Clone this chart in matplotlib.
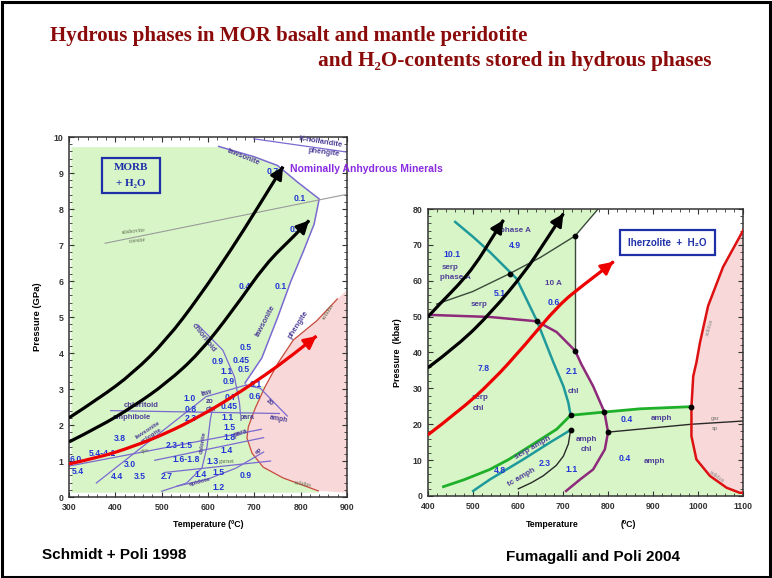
import matplotlib
matplotlib.use("Agg")
import matplotlib.pyplot as plt
from matplotlib.patches import Rectangle, Polygon, PathPatch
from matplotlib.path import Path
from matplotlib.ticker import MultipleLocator

SANS = ['Liberation Sans', 'DejaVu Sans']
SERIF = ['Liberation Serif', 'DejaVu Serif']
plt.rcParams['font.family'] = SANS

# ================= MORB + H2O (Schmidt & Poli 1998): T in degC, P in GPa =================
morb_T_lim = (300, 900)
morb_P_lim = (0, 10)

# upper limit of the hydrous assemblages (lawsonite / phengite breakdown)
law_T = [623, 660, 700, 750, 793, 840, 829, 805, 779, 750, 716, 680]
law_P = [9.74, 9.6, 9.45, 9.21, 8.75, 8.28, 7.58, 6.8, 6.0, 4.98, 3.86, 3.17]

# wet basalt solidus
sol_T = [838, 762, 719, 695, 684, 687, 702, 723, 751, 784, 835, 879]
sol_P = [0.17, 0.53, 0.83, 1.22, 1.64, 1.95, 2.47, 3.06, 3.72, 4.36, 4.9, 5.5]

# reaction boundaries inside the hydrous field
morb_lines = [
    ([699, 901], [9.95, 9.58]),                                   # K-hollandite / phengite
    ([578, 632, 657, 668, 670], [4.78, 4.08, 3.34, 2.6, 2.3]),    # chloritoid out
    ([390, 754], [2.40, 2.32]),                                   # chloritoid / amphibole
    ([359, 596, 682], [0.39, 2.79, 3.11]),                        # lawsonite / eclogite
    ([682, 713, 771], [3.11, 3.02, 2.25]),                        # zoisite / amphibole
    ([300, 715], [0.86, 1.88]),                                   # cpx / paragonite
    ([485, 720], [1.02, 1.65]),
    ([505, 735], [0.68, 1.00]),                                   # garnet
    ([533, 600, 660, 720], [0.30, 0.50, 0.80, 1.25]),             # epidote / eclogite
    ([500, 554, 587, 598, 605, 609], [0.16, 0.39, 0.81, 1.41, 2.16, 2.40]),  # chlorite
]
stish_T = [378, 896]
stish_P = [7.05, 8.4]

# wt% H2O bound in hydrous phases
morb_water = [
    ("0.7", 740, 9.04), ("0.1", 797, 8.3), ("0.6", 790, 7.42),
    ("0.4", 680, 5.84), ("0.1", 758, 5.84),
    ("0.5", 682, 4.16), ("0.9", 621, 3.76), ("0.45", 671, 3.79), ("1.1", 641, 3.5),
    ("0.5", 676, 3.54), ("0.9", 644, 3.2), ("0.1", 703, 3.12),
    ("1.0", 560, 2.74), ("0.7", 648, 2.76), ("0.6", 700, 2.79),
    ("0.8", 562, 2.44), ("0.45", 646, 2.51), ("2.3", 562, 2.17), ("1.1", 643, 2.2),
    ("1.5", 646, 1.93), ("1.8", 646, 1.66), ("3.8", 410, 1.62), ("2.3-1.5", 538, 1.42),
    ("1.4", 641, 1.29), ("5.4-4.1", 372, 1.22), ("1.6-1.8", 552, 1.04), ("1.3", 609, 1.0),
    ("6.0", 314, 1.04), ("5.4", 318, 0.7), ("3.0", 432, 0.89), ("4.4", 403, 0.57),
    ("3.5", 452, 0.58), ("2.7", 510, 0.57), ("1.4", 583, 0.63), ("1.5", 623, 0.67),
    ("0.9", 681, 0.6), ("1.2", 622, 0.27),
]

# phase names: (text, T, P, rotation, size)
morb_phases = [
    ("lawsonite", 677, 9.44, -22, 5.5), ("K-hollandite", 843, 9.86, -9, 5.5),
    ("phengite", 851, 9.58, -7, 5.5), ("lawsonite", 723, 4.9, 62, 5.5),
    ("phengite", 795, 4.78, 57, 5.5), ("chloritoid", 590, 4.42, -52, 5.5),
    ("chloritoid", 455, 2.53, 0, 5.5), ("amphibole", 436, 2.22, 0, 5.5),
    ("lawsonite", 470, 1.85, 33, 4.5), ("eclogite", 478, 1.7, 33, 4.5),
    ("law", 596, 2.88, 15, 5), ("zo", 603, 2.66, 0, 5), ("chl", 607, 2.44, 0, 5),
    ("para", 683, 2.22, 0, 5), ("para", 670, 1.78, 18, 5), ("amph", 752, 2.16, -10, 5),
    ("zo", 733, 2.64, -40, 5), ("chlorite", 589, 1.5, 82, 4.5), ("ep", 708, 1.3, 45, 4.5),
    ("epidote", 582, 0.42, 15, 4.5),
]
morb_minor_labels = [
    ("cpx", 464, 1.29, 8), ("garnet", 641, 0.99, 0), ("stishovite", 440, 7.38, 6),
    ("coesite", 447, 7.12, 6), ("solidus", 860, 5.15, 58), ("solidus", 805, 0.36, -10),
]

# P-T paths of subducting crust
morb_path_hot_T = [300, 365, 438, 510, 581, 654, 725, 783, 834]
morb_path_hot_P = [0.92, 1.1, 1.40, 1.77, 2.23, 2.79, 3.40, 3.95, 4.47]
morb_path_cold1_T = [300, 365, 438, 510, 581, 654, 704, 762]
morb_path_cold1_P = [2.2, 2.74, 3.44, 4.36, 5.56, 6.95, 7.97, 9.18]
morb_path_cold2_T = [300, 365, 438, 510, 581, 654, 725, 783, 818]
morb_path_cold2_P = [1.53, 1.95, 2.51, 3.16, 3.99, 5.19, 6.49, 7.21, 7.68]

# ================= lherzolite + H2O (Fumagalli & Poli 2004): T in degC, P in kbar =================
lz_T_lim = (400, 1100)
lz_P_lim = (0, 80)

lz_purple_T = [400, 538, 642, 686, 727, 741, 767, 792, 800, 793, 767, 738, 707]
lz_purple_P = [50.5, 49.9, 48.7, 45.7, 40.5, 36.7, 30.6, 23.4, 17.8, 13, 7.4, 4.6, 1.4]
lz_teal_T = [461, 500, 538, 597, 642, 679, 701, 712, 717]
lz_teal_P = [76.4, 72.3, 68, 60.6, 48.9, 37.2, 30.6, 26, 22.5]
lz_teal2_T = [501, 510, 538, 612, 671, 717]
lz_teal2_P = [1.4, 2.2, 4.6, 10.2, 14.9, 18.4]
lz_green_T = [435, 480, 538, 580, 627, 686, 717, 792, 871, 985]
lz_green_P = [2.6, 4.5, 7.4, 10.2, 13.9, 18.6, 22.5, 23.4, 24.3, 24.9]
lz_chl_T = [601, 630, 656, 685, 701, 712, 717]
lz_chl_P = [2.0, 3.7, 5.6, 8.5, 11.1, 14.5, 18.4]
lz_garsp_T = [800, 985, 1100]
lz_garsp_P = [17.8, 20.0, 20.9]
lz_phaseA_T = [420, 500, 582, 650, 727, 778]
lz_phaseA_P = [53.5, 57, 62, 66.5, 72.5, 80]
lz_10A_T = [727, 727]
lz_10A_P = [72.5, 40.5]
lz_sol_T = [1100, 1055, 1022, 1004, 996, 989, 985, 985, 996, 1026, 1063, 1092, 1100]
lz_sol_P = [74.1, 63.8, 53, 42.8, 37.2, 33.4, 24.9, 16.7, 10.2, 5.6, 2.3, 0.9, 0.9]
lz_points_T = [582, 727, 642, 727, 717, 717, 792, 800, 985]
lz_points_P = [62, 72.5, 48.7, 40.5, 22.5, 18.4, 23.4, 17.8, 24.9]

lz_water = [("4.9", 594, 69.9), ("10.1", 453, 67.3), ("0.6", 679, 54), ("5.1", 560, 56.4),
            ("7.8", 523, 35.5), ("2.1", 719, 34.8), ("0.4", 841, 21.4), ("0.4", 837, 10.4),
            ("4.8", 560, 7.0), ("2.3", 660, 9.1), ("1.1", 719, 7.4)]
lz_phases = [("phase A", 594, 74.1, 0), ("serp", 450, 63.8, 0), ("phase A", 461, 61, 0),
             ("10 A", 679, 59.2, 0), ("serp", 513, 53.4, 0), ("serp", 516, 27.4, 0),
             ("chl", 512, 24.3, 0), ("chl", 723, 29.2, 0), ("amph", 919, 21.5, 0),
             ("amph", 753, 15.8, 0), ("chl", 753, 13.0, 0), ("amph", 904, 9.5, 0),
             ("serp amph", 634, 13.5, 30), ("tc amph", 608, 5.1, 30)]

lz_path_hot_T = [400, 468, 542, 616, 690, 745, 785, 812]
lz_path_hot_P = [17, 23.5, 31.8, 42.1, 53.2, 58.8, 62.6, 65.3]
lz_path_cold1_T = [400, 431, 468, 505, 542, 568]
lz_path_cold1_P = [49.9, 54.1, 58.8, 64.3, 71.8, 76.9]
lz_path_cold2_T = [400, 468, 542, 616, 660, 701]
lz_path_cold2_P = [35.7, 42.1, 51.3, 62.5, 70.8, 78.7]

# ---------------------------------------------------------------------------
GREEN = '#d8f5c8'
PINK = '#f8d8d8'
LINE_PURPLE = '#7a6ad0'
NUM_BLUE = '#2437d4'
NAME_PURPLE = '#4f3f98'

fig = plt.figure(figsize=(7.72, 5.78), dpi=100)
fig.patch.set_facecolor('white')

# slide frame
fig.add_artist(Rectangle((0.002, 0.002), 0.996, 0.994, transform=fig.transFigure,
                         fill=False, lw=2.2, ec='black'))

fig.text(0.065, 0.938, "Hydrous phases in MOR basalt and mantle peridotite",
         family=SERIF, weight='bold', size=15, color='#8b0a0a', va='center')
fig.text(0.412, 0.895, "and H\u2082O-contents stored in hydrous phases",
         family=SERIF, weight='bold', size=15.4, color='#8b0a0a', va='center')

fig.text(0.055, 0.039, "Schmidt + Poli 1998", weight='bold', size=11, va='center')
fig.text(0.655, 0.037, "Fumagalli and Poli 2004", weight='bold', size=11, va='center')


def style_axes(ax, xmaj, xmin, ymaj, ymin):
    ax.xaxis.set_major_locator(MultipleLocator(xmaj))
    ax.xaxis.set_minor_locator(MultipleLocator(xmin))
    ax.yaxis.set_major_locator(MultipleLocator(ymaj))
    ax.yaxis.set_minor_locator(MultipleLocator(ymin))
    ax.tick_params(which='both', direction='in', top=True, right=True, colors='#333333')
    ax.tick_params(which='major', length=3.5, width=0.8, labelsize=6.3, pad=4)
    ax.tick_params(which='minor', length=2, width=0.6)
    for lab in ax.get_xticklabels() + ax.get_yticklabels():
        lab.set_fontweight('bold')
    for s in ax.spines.values():
        s.set_color('#333333')
        s.set_linewidth(1.1)


def draw_path(ax, T, P, color):
    """Smooth P-T path through the given stations, ending in an arrow head."""
    pts = list(zip(T, P))
    verts = [pts[0]]
    codes = [Path.MOVETO]
    for i in range(1, len(pts) - 1):
        if i == len(pts) - 2:
            end = pts[i + 1]
        else:
            end = ((pts[i][0] + pts[i + 1][0]) / 2, (pts[i][1] + pts[i + 1][1]) / 2)
        verts += [pts[i], end]
        codes += [Path.CURVE3, Path.CURVE3]
    ax.add_patch(PathPatch(Path(verts, codes), fill=False, ec=color, lw=2.3,
                           capstyle='butt', zorder=6))
    tip = pts[-1]
    prev = pts[-2]
    near = (tip[0] - 0.04 * (tip[0] - prev[0]), tip[1] - 0.04 * (tip[1] - prev[1]))
    ax.annotate('', xy=tip, xytext=near,
                arrowprops=dict(arrowstyle='-|>,head_length=0.75,head_width=0.38',
                                color=color, lw=2.0, shrinkA=0, shrinkB=0),
                zorder=7)


# ========================= left panel =========================
ax1 = fig.add_axes([0.0894, 0.1401, 0.3601, 0.6228])
ax1.set_xlim(*morb_T_lim)
ax1.set_ylim(*morb_P_lim)

# hydrous field
i_sol = sol_T.index(723)
green_pts = ([(305, 0.12), (305, 9.72), (623, 9.72)] + list(zip(law_T, law_P)) +
             list(zip(sol_T[i_sol::-1], sol_P[i_sol::-1])) + [(838, 0.12)])
ax1.add_patch(Polygon(green_pts, closed=True, fc=GREEN, ec='none', zorder=0))
# melt field
pink_pts = list(zip(sol_T, sol_P)) + [(900, 5.75), (900, 0.12)]
ax1.add_patch(Polygon(pink_pts, closed=True, fc=PINK, ec='none', zorder=0))

ax1.plot(law_T, law_P, color=LINE_PURPLE, lw=1.1, zorder=2)
ax1.plot(sol_T, sol_P, color='#c84a3a', lw=0.9, zorder=2)
ax1.plot(stish_T, stish_P, color='#9a9a9a', lw=0.8, zorder=2)
for T, P in morb_lines:
    ax1.plot(T, P, color=LINE_PURPLE, lw=0.9, zorder=2)

for txt, T, P in morb_water:
    ax1.text(T, P, txt, color=NUM_BLUE, weight='bold', size=6.2, ha='center', va='center', zorder=4)
for txt, T, P, rot, sz in morb_phases:
    ax1.text(T, P, txt, color=NAME_PURPLE, weight='bold', size=sz, ha='center', va='center',
             rotation=rot, rotation_mode='anchor', zorder=4)
for txt, T, P, rot in morb_minor_labels:
    ax1.text(T, P, txt, color='#5e6e4e', family=SERIF, size=4.5, ha='center', va='center',
             rotation=rot, rotation_mode='anchor', zorder=4)

# MORB + H2O box
ax1.add_patch(Rectangle((371, 8.44), 125, 0.98, fill=False, ec='#1f2fa8', lw=1.6, zorder=5))
ax1.text(433, 9.15, "MORB", family=SERIF, weight='bold', size=8, color='#1f2fa8',
         ha='center', va='center', zorder=5)
ax1.text(433, 8.72, "+ H\u2082O", family=SERIF, weight='bold', size=8, color='#1f2fa8',
         ha='center', va='center', zorder=5)

draw_path(ax1, morb_path_cold1_T, morb_path_cold1_P, 'black')
draw_path(ax1, morb_path_cold2_T, morb_path_cold2_P, 'black')
draw_path(ax1, morb_path_hot_T, morb_path_hot_P, '#ee0000')

ax1.text(777, 9.1, "Nominally Anhydrous Minerals", color='#8a2be2', weight='bold', size=7.5,
         ha='left', va='center', clip_on=False, zorder=8)

style_axes(ax1, 100, 20, 1, 0.2)
ax1.text(-0.115, 0.5, "Pressure (GPa)", transform=ax1.transAxes, rotation=90,
         weight='bold', size=6.8, ha='center', va='center')
ax1.text(0.5, -0.075, "Temperature (\u00baC)", transform=ax1.transAxes,
         weight='bold', size=6.3, ha='center', va='center')

# ========================= right panel =========================
ax2 = fig.add_axes([0.554, 0.1419, 0.4088, 0.4965])
ax2.set_xlim(*lz_T_lim)
ax2.set_ylim(*lz_P_lim)

i_p = lz_purple_T.index(792)
i_g = lz_green_T.index(792)
i_s = lz_sol_T.index(985)
lz_green_pts = ([(400, 0), (400, 80), (778, 80), (727, 72.5), (727, 40.5)] +
                list(zip(lz_purple_T[5:i_p + 1], lz_purple_P[5:i_p + 1])) +
                list(zip(lz_green_T[i_g + 1:], lz_green_P[i_g + 1:])) +
                list(zip(lz_sol_T[i_s + 1:], lz_sol_P[i_s + 1:])) + [(1100, 0)])
ax2.add_patch(Polygon(lz_green_pts, closed=True, fc=GREEN, ec='none', zorder=0))
ax2.add_patch(Polygon(list(zip(lz_sol_T, lz_sol_P)), closed=True, fc=PINK, ec='none', zorder=0))

ax2.plot(lz_phaseA_T, lz_phaseA_P, color='#3a4a3a', lw=1.0, zorder=2)
ax2.plot(lz_10A_T, lz_10A_P, color='#3a4a3a', lw=1.0, zorder=2)
ax2.plot(lz_chl_T, lz_chl_P, color='#2a2a2a', lw=1.0, zorder=2)
ax2.plot(lz_garsp_T, lz_garsp_P, color='#2a2a2a', lw=1.0, zorder=2)
ax2.plot(lz_teal_T, lz_teal_P, color='#1f9a9a', lw=1.8, zorder=3)
ax2.plot(lz_teal2_T, lz_teal2_P, color='#1f9a9a', lw=1.8, zorder=3)
ax2.plot(lz_purple_T, lz_purple_P, color='#8e2a7a', lw=1.8, zorder=3)
ax2.plot(lz_green_T, lz_green_P, color='#1fb02a', lw=2.0, zorder=3)
ax2.plot(lz_sol_T, lz_sol_P, color='#dd1111', lw=1.8, zorder=3)
ax2.scatter(lz_points_T, lz_points_P, s=10, color='black', zorder=4)

for txt, T, P in lz_water:
    ax2.text(T, P, txt, color=NUM_BLUE, weight='bold', size=6.2, ha='center', va='center', zorder=4)
for txt, T, P, rot in lz_phases:
    ax2.text(T, P, txt, color=NAME_PURPLE, weight='bold', size=5.8, ha='center', va='center',
             rotation=rot, rotation_mode='anchor', zorder=4)
ax2.text(1037, 21.6, "gar", color='#777777', size=4.3, ha='center', va='center', zorder=4)
ax2.text(1037, 18.8, "sp", color='#777777', size=4.3, ha='center', va='center', zorder=4)
ax2.text(1026, 47, "solidus", color='#888888', size=4, ha='center', va='center', rotation=75, zorder=4)
ax2.text(1041, 5.3, "solidus", color='#888888', size=4, ha='center', va='center', rotation=-35, zorder=4)

# lherzolite + H2O box
ax2.add_patch(Rectangle((826, 67.1), 211, 7.0, fc='white', ec='#1f2fa8', lw=1.6, zorder=5))
ax2.text(931.5, 70.6, "lherzolite  +  H\u2082O", color='#1f2fa8', weight='bold', size=7,
         ha='center', va='center', zorder=6)

draw_path(ax2, lz_path_cold1_T, lz_path_cold1_P, 'black')
draw_path(ax2, lz_path_cold2_T, lz_path_cold2_P, 'black')
draw_path(ax2, lz_path_hot_T, lz_path_hot_P, '#ee0000')

style_axes(ax2, 100, 20, 10, 2)
ax2.text(-0.095, 0.5, "Pressure  (kbar)", transform=ax2.transAxes, rotation=90,
         weight='bold', size=6.5, ha='center', va='center')
ax2.text(0.395, -0.101, "Temperature", transform=ax2.transAxes,
         weight='bold', size=6.3, ha='center', va='center')
ax2.text(0.635, -0.101, "(\u00baC)", transform=ax2.transAxes,
         weight='bold', size=6.3, ha='center', va='center')

fig.savefig("out.png", dpi=100, facecolor='white')
